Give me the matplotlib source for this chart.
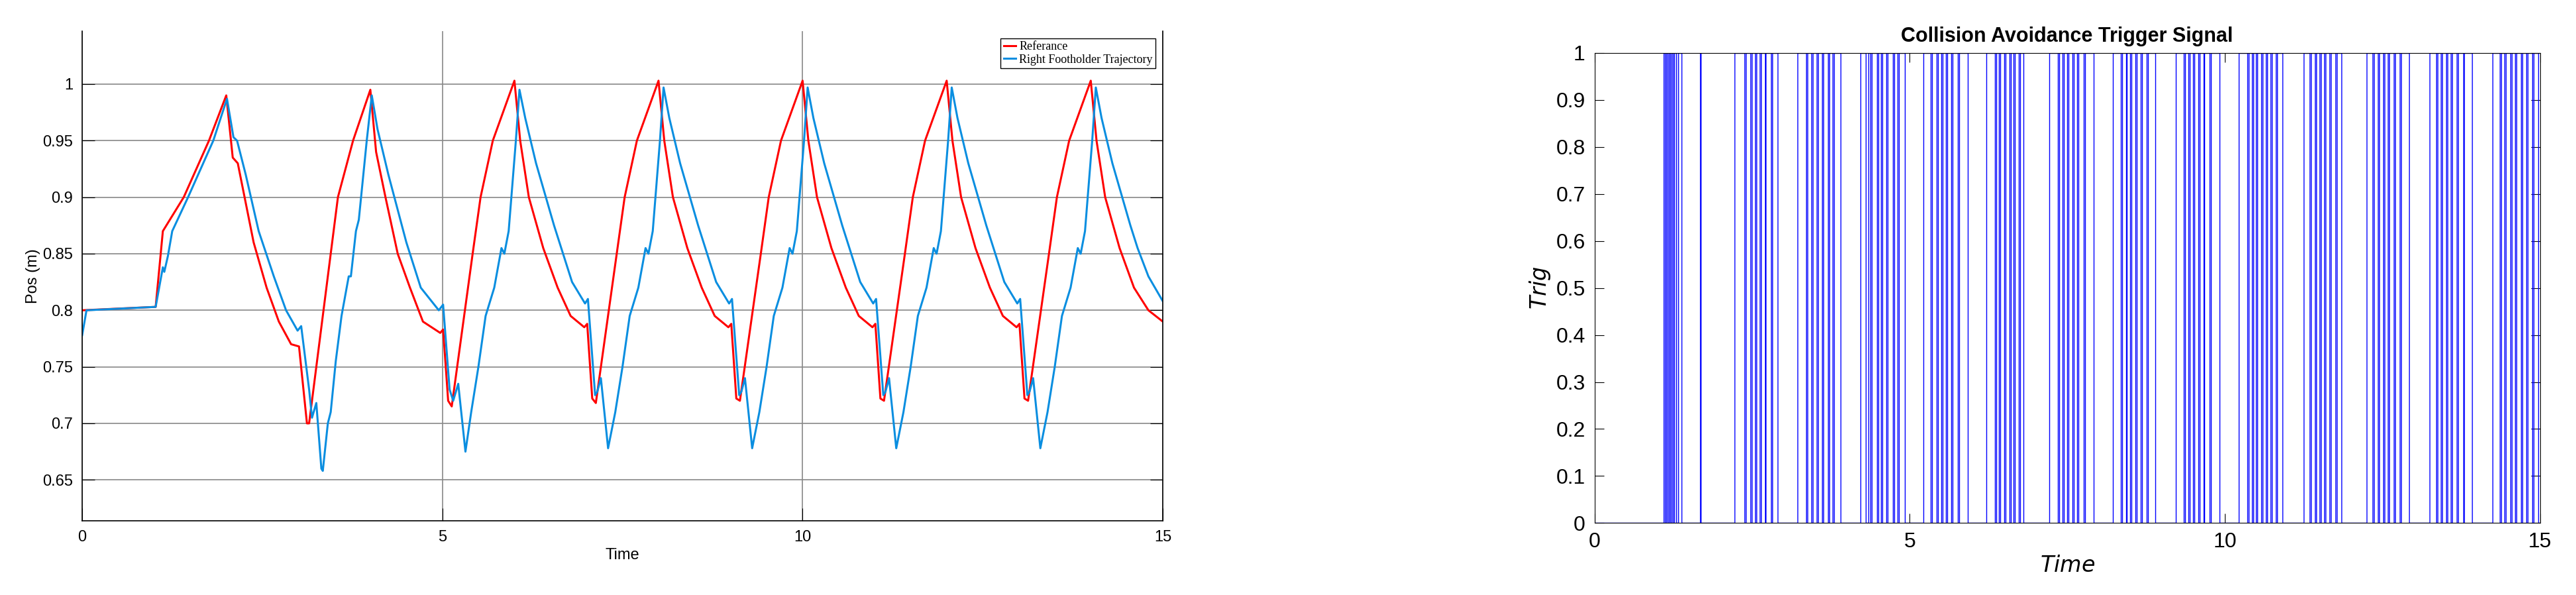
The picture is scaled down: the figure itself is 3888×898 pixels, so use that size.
import numpy as np
import matplotlib
matplotlib.use("Agg")
import matplotlib.pyplot as plt

plt.rcParams['font.family'] = ['Liberation Sans', 'DejaVu Sans']

# reference trajectory (time, pos)
ref_t = [0, 1.02, 1.12, 1.41, 1.76, 2.0, 2.09, 2.16, 2.38, 2.56, 2.73, 2.9, 3.01, 3.12, 3.15,
         3.45, 3.55, 3.76, 4.0, 4.08, 4.21, 4.38, 4.55, 4.73, 4.97, 5.01, 5.08, 5.13,
         5.42, 5.53, 5.70, 6.0, 6.08, 6.2, 6.4, 6.6, 6.78, 6.97, 7.01, 7.08, 7.13,
         7.42, 7.53, 7.70, 8.0, 8.08, 8.2, 8.4, 8.6, 8.78, 8.97, 9.01, 9.08, 9.13,
         9.42, 9.53, 9.70, 10.0, 10.08, 10.2, 10.4, 10.6, 10.78, 10.97, 11.01, 11.08, 11.13,
         11.42, 11.53, 11.70, 12.0, 12.08, 12.2, 12.4, 12.6, 12.78, 12.97, 13.01, 13.08, 13.13,
         13.42, 13.53, 13.70, 14.0, 14.08, 14.2, 14.4, 14.6, 14.8, 15.0]
ref_y = [0.80, 0.803, 0.87, 0.90, 0.95, 0.99, 0.935, 0.93, 0.86, 0.82, 0.79, 0.77, 0.768, 0.70, 0.70,
         0.85, 0.90, 0.95, 0.995, 0.94, 0.90, 0.85, 0.82, 0.79, 0.78, 0.783, 0.72, 0.715,
         0.85, 0.90, 0.95, 1.003, 0.95, 0.90, 0.855, 0.82, 0.795, 0.785, 0.788, 0.722, 0.718,
         0.85, 0.90, 0.95, 1.003, 0.95, 0.90, 0.855, 0.82, 0.795, 0.785, 0.788, 0.722, 0.72,
         0.85, 0.90, 0.95, 1.003, 0.95, 0.90, 0.855, 0.82, 0.795, 0.785, 0.788, 0.722, 0.72,
         0.85, 0.90, 0.95, 1.003, 0.95, 0.90, 0.855, 0.82, 0.795, 0.785, 0.788, 0.722, 0.72,
         0.85, 0.90, 0.95, 1.003, 0.95, 0.90, 0.855, 0.82, 0.80, 0.79]

# right footholder trajectory
trj_t = [0, 0.06, 1.02, 1.12, 1.14, 1.19, 1.25, 1.47, 1.82, 2.01, 2.1, 2.15, 2.27, 2.45, 2.66, 2.83, 2.99, 3.04,
         3.15, 3.19, 3.25, 3.32, 3.34, 3.41, 3.45, 3.52, 3.6, 3.7, 3.73, 3.8, 3.84, 3.95, 4.02,
         4.1, 4.25, 4.5, 4.7, 4.95, 5.01, 5.1, 5.15, 5.22, 5.32, 5.4, 5.5, 5.6, 5.72, 5.82, 5.86, 5.92, 6.02, 6.07,
         6.15, 6.3, 6.55, 6.65, 6.8, 6.98, 7.02, 7.12, 7.15, 7.2, 7.3, 7.4, 7.5, 7.6, 7.72, 7.82, 7.86, 7.92, 8.02, 8.07,
         8.15, 8.3, 8.55, 8.65, 8.8, 8.98, 9.02, 9.12, 9.15, 9.2, 9.3, 9.4, 9.5, 9.6, 9.72, 9.82, 9.86, 9.92, 10.02, 10.07,
         10.15, 10.3, 10.55, 10.65, 10.8, 10.98, 11.02, 11.12, 11.15, 11.2, 11.3, 11.4, 11.5, 11.6, 11.72, 11.82, 11.86, 11.92, 12.02, 12.07,
         12.15, 12.3, 12.55, 12.65, 12.8, 12.98, 13.02, 13.12, 13.15, 13.2, 13.3, 13.4, 13.5, 13.6, 13.72, 13.82, 13.86, 13.92, 14.02, 14.07,
         14.15, 14.3, 14.55, 14.65, 14.8, 15.0]
trj_y = [0.778, 0.80, 0.803, 0.838, 0.834, 0.848, 0.87, 0.90, 0.95, 0.987, 0.953, 0.95, 0.92, 0.87, 0.83, 0.80, 0.782, 0.786,
         0.73, 0.705, 0.718, 0.66, 0.658, 0.70, 0.71, 0.755, 0.795, 0.83, 0.83, 0.87, 0.88, 0.95, 0.99,
         0.96, 0.92, 0.86, 0.82, 0.80, 0.805, 0.73, 0.72, 0.735, 0.675, 0.71, 0.75, 0.795, 0.82, 0.855, 0.85, 0.87, 0.95, 0.995,
         0.97, 0.93, 0.875, 0.855, 0.825, 0.806, 0.81, 0.725, 0.728, 0.74, 0.678, 0.71, 0.75, 0.795, 0.82, 0.855, 0.85, 0.87, 0.95, 0.997,
         0.97, 0.93, 0.875, 0.855, 0.825, 0.806, 0.81, 0.725, 0.728, 0.74, 0.678, 0.71, 0.75, 0.795, 0.82, 0.855, 0.85, 0.87, 0.95, 0.997,
         0.97, 0.93, 0.875, 0.855, 0.825, 0.806, 0.81, 0.725, 0.728, 0.74, 0.678, 0.71, 0.75, 0.795, 0.82, 0.855, 0.85, 0.87, 0.95, 0.997,
         0.97, 0.93, 0.875, 0.855, 0.825, 0.806, 0.81, 0.725, 0.728, 0.74, 0.678, 0.71, 0.75, 0.795, 0.82, 0.855, 0.85, 0.87, 0.95, 0.997,
         0.97, 0.93, 0.875, 0.855, 0.83, 0.808]

# trigger signal: times where the signal goes high / low
trig_rise = [1.10, 1.14, 1.18, 1.22, 1.26, 1.33, 1.68,
             2.22, 2.40, 2.49, 2.57, 2.64, 2.72, 2.82,
             3.22, 3.38, 3.46, 3.55, 3.63, 3.72, 3.80,
             4.22, 4.34, 4.40, 4.50, 4.57, 4.65, 4.75, 4.83,
             5.22, 5.35, 5.45, 5.52, 5.60, 5.68, 5.78,
             6.22, 6.37, 6.44, 6.52, 6.60, 6.67, 6.75,
             7.22, 7.37, 7.45, 7.52, 7.60, 7.68, 7.78,
             8.22, 8.37, 8.45, 8.52, 8.60, 8.69, 8.78,
             9.22, 9.37, 9.44, 9.52, 9.60, 9.68, 9.78,
             10.22, 10.38, 10.45, 10.52, 10.60, 10.67, 10.75, 10.83,
             11.25, 11.37, 11.45, 11.52, 11.60, 11.68, 11.78,
             12.25, 12.37, 12.45, 12.53, 12.61, 12.70, 12.80,
             13.25, 13.37, 13.45, 13.53, 13.61, 13.70, 13.80,
             14.25, 14.38, 14.46, 14.55, 14.63, 14.72, 14.80, 14.90]
trig_fall = [1.12, 1.16, 1.20, 1.24, 1.30, 1.38, 1.69,
             2.38, 2.47, 2.55, 2.62, 2.70, 2.80, 2.90,
             3.36, 3.44, 3.53, 3.61, 3.70, 3.78, 3.90,
             4.30, 4.38, 4.48, 4.55, 4.63, 4.73, 4.81, 4.92,
             5.33, 5.43, 5.50, 5.58, 5.66, 5.76, 5.92,
             6.35, 6.42, 6.50, 6.58, 6.65, 6.73, 6.80,
             7.35, 7.43, 7.50, 7.58, 7.66, 7.76, 7.92,
             8.35, 8.43, 8.50, 8.58, 8.67, 8.76, 8.90,
             9.35, 9.42, 9.50, 9.58, 9.66, 9.76, 9.92,
             10.36, 10.43, 10.50, 10.58, 10.65, 10.73, 10.81, 10.92,
             11.35, 11.43, 11.50, 11.58, 11.66, 11.76, 11.85,
             12.35, 12.43, 12.51, 12.59, 12.68, 12.78, 12.92,
             13.35, 13.43, 13.51, 13.59, 13.68, 13.78, 13.92,
             14.36, 14.44, 14.53, 14.61, 14.70, 14.78, 14.88, 14.97]

fig = plt.figure(figsize=(38.88, 8.98), dpi=100)

# left: positions
ax1 = fig.add_axes([0.0319, 0.125, 0.4195, 0.823])
ax1.plot(ref_t, ref_y, color='red', lw=2.2, label='Referance')
ax1.plot(trj_t, trj_y, color='#0a8ee0', lw=2.2, label='Right Footholder Trajectory')
ax1.set_xlim(0, 15)
ax1.set_ylim(0.614, 1.047)
ax1.set_xticks([0, 5, 10, 15])
ax1.set_yticks([0.65, 0.7, 0.75, 0.8, 0.85, 0.9, 0.95, 1])
ax1.set_yticklabels(['0.65', '0.7', '0.75', '0.8', '0.85', '0.9', '0.95', '1'])
ax1.grid(True, color='#888888', lw=1.2)
ax1.tick_params(direction='in', labelsize=17, length=14, right=True, pad=10)
ax1.set_xlabel('Time', fontsize=17)
ax1.set_ylabel('Pos (m)', fontsize=17, labelpad=2)
ax1.legend(loc='upper right', prop={'family': 'Liberation Serif', 'size': 13},
           fancybox=False, edgecolor='black', handlelength=1, handletextpad=0.3,
           borderpad=0.25, labelspacing=0.15, framealpha=1, borderaxespad=0.6)
for s in ax1.spines.values():
    s.set_linewidth(1.2)
ax1.spines['top'].set_visible(False)

# right: trigger
edges = [0.0]
vals = [0.0]
for r, f in zip(trig_rise, trig_fall):
    edges += [r, f]
    vals += [1.0, 0.0]
edges.append(15.0)
vals.append(0.0)

ax2 = fig.add_axes([0.619, 0.121, 0.367, 0.79])
ax2.step(edges, vals, where='post', color='blue', lw=1.0)
ax2.set_xlim(0, 15)
ax2.set_ylim(0, 1)
ax2.set_xticks([0, 5, 10, 15])
ax2.set_yticks(np.round(np.arange(0, 1.01, 0.1), 1))
ax2.set_yticklabels(['0', '0.1', '0.2', '0.3', '0.4', '0.5', '0.6', '0.7', '0.8', '0.9', '1'])
ax2.tick_params(direction='in', labelsize=23, length=10, top=True, right=True, pad=10)
ax2.set_xlabel('$Time$', fontsize=24)
ax2.set_ylabel('$Trig$', fontsize=24)
ax2.set_title('Collision Avoidance Trigger Signal', fontsize=22, fontweight='bold', pad=12)

fig.savefig('out.png', dpi=100)
